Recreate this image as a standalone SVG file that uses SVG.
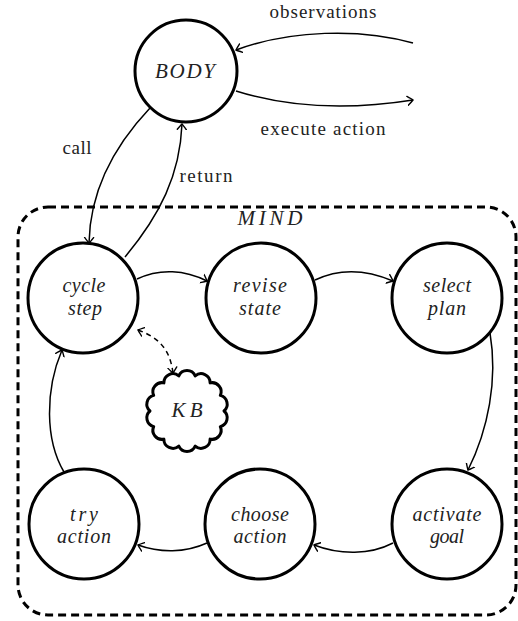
<svg xmlns="http://www.w3.org/2000/svg" width="518" height="621" viewBox="0 0 518 621">
  <style>
    .state { fill: #fff; stroke: #000; stroke-width: 3; }
    .lbl { font-family: "Liberation Serif", "Times New Roman", serif; font-size: 19px; fill: #222; stroke: none; text-anchor: middle; }
    .it { font-style: italic; font-size: 20px; }
    .caps { font-size: 21px; }
    .edge { fill: none; stroke: #000; stroke-width: 1.5; }
    .dash { stroke-dasharray: 5 4; }
  </style>
  <defs>
    <marker id="tip" markerUnits="userSpaceOnUse" markerWidth="12" markerHeight="12" viewBox="-6 -6 12 12" refX="0" refY="0" orient="auto-start-reverse">
      <path d="M-5.5,-4.5 Q-1.3,-1.3 0,0 Q-1.3,1.3 -5.5,4.5" fill="none" stroke="#000" stroke-width="1.4" stroke-linecap="round"/>
    </marker>
  </defs>

  <!-- mind boundary -->
  <g id="mind">
    <rect x="18" y="207" width="498" height="408" rx="30" ry="30" fill="none" stroke="#000" stroke-width="3" stroke-dasharray="8 5"/>
    <text class="lbl it caps" x="270" y="225" textLength="65" lengthAdjust="spacing">MIND</text>
  </g>

  <!-- connectors -->
  <g id="connectors">
    <path class="edge" d="M413,43 C360,28 290,30 236,50" marker-end="url(#tip)"/>
    <path class="edge" d="M236,91 C290,108 350,110 413,100" marker-end="url(#tip)"/>
    <path class="edge" d="M150,108 C115,145 90,190 89,243" marker-end="url(#tip)"/>
    <path class="edge" d="M125,257 C160,215 180,175 182,124" marker-end="url(#tip)"/>
    <path class="edge" d="M137,279 C160,268 185,270 207,281" marker-end="url(#tip)"/>
    <path class="edge" d="M315,280 C340,268 365,269 393,281" marker-end="url(#tip)"/>
    <path class="edge" d="M490,333 C498,380 488,430 468,470" marker-end="url(#tip)"/>
    <path class="edge" d="M393,543 C370,555 340,555 314,545" marker-end="url(#tip)"/>
    <path class="edge" d="M207,543 C185,553 160,553 138,545" marker-end="url(#tip)"/>
    <path class="edge" d="M64,472 C45,440 45,390 62,350" marker-end="url(#tip)"/>
    <path class="edge dash" d="M138,330 C160,338 170,350 173,373" marker-start="url(#tip)" marker-end="url(#tip)"/>
    <text class="lbl" x="323" y="18" textLength="107" lengthAdjust="spacing">observations</text>
    <text class="lbl" x="323" y="135" textLength="125" lengthAdjust="spacing">execute action</text>
    <text class="lbl" x="77" y="154" textLength="29" lengthAdjust="spacing">call</text>
    <text class="lbl" x="206" y="182" textLength="53" lengthAdjust="spacing">return</text>
  </g>

  <g id="body">
    <circle class="state" cx="186" cy="71" r="51"/>
    <text class="lbl it caps" x="185" y="78" textLength="60" lengthAdjust="spacing">BODY</text>
  </g>

  <g id="cycle-step">
    <circle class="state" cx="83" cy="298" r="55"/>
    <text class="lbl it" x="84" y="292" textLength="43" lengthAdjust="spacing">cycle</text>
    <text class="lbl it" x="85" y="315" textLength="34" lengthAdjust="spacing">step</text>
  </g>

  <g id="revise-state">
    <circle class="state" cx="261" cy="298" r="55"/>
    <text class="lbl it" x="260" y="292" textLength="54" lengthAdjust="spacing">revise</text>
    <text class="lbl it" x="260" y="315" textLength="42" lengthAdjust="spacing">state</text>
  </g>

  <g id="select-plan">
    <circle class="state" cx="447" cy="298" r="55"/>
    <text class="lbl it" x="447" y="292" textLength="48" lengthAdjust="spacing">select</text>
    <text class="lbl it" x="447" y="315" textLength="38" lengthAdjust="spacing">plan</text>
  </g>

  <g id="activate-goal">
    <circle class="state" cx="447" cy="524" r="55"/>
    <text class="lbl it" x="447" y="521" textLength="69" lengthAdjust="spacing">activate</text>
    <text class="lbl it" x="447" y="543" textLength="34" lengthAdjust="spacing">goal</text>
  </g>

  <g id="choose-action">
    <circle class="state" cx="260" cy="524" r="55"/>
    <text class="lbl it" x="260" y="521" textLength="58" lengthAdjust="spacing">choose</text>
    <text class="lbl it" x="260" y="543" textLength="53" lengthAdjust="spacing">action</text>
  </g>

  <g id="try-action">
    <circle class="state" cx="84" cy="524" r="55"/>
    <text class="lbl it" x="84" y="521" textLength="28" lengthAdjust="spacing">try</text>
    <text class="lbl it" x="84" y="543" textLength="54" lengthAdjust="spacing">action</text>
  </g>

  <!-- knowledge base: scalloped cloud of 14 bumps -->
  <g id="kb">
    <path fill="#fff" stroke="#000" stroke-width="3" stroke-linejoin="round"
      d="M224,411 A9,9 0 0 1 220.3,426.6 A9,9 0 0 1 210.1,439.1 A9,9 0 0 1 195.2,446.1 A9,9 0 0 1 178.8,446.1 A9,9 0 0 1 163.9,439.1 A9,9 0 0 1 153.7,426.6 A9,9 0 0 1 150,411 A9,9 0 0 1 153.7,395.4 A9,9 0 0 1 163.9,382.9 A9,9 0 0 1 178.8,375.9 A9,9 0 0 1 195.2,375.9 A9,9 0 0 1 210.1,382.9 A9,9 0 0 1 220.3,395.4 A9,9 0 0 1 224,411 Z"/>
    <text class="lbl it caps" x="187" y="417" textLength="31" lengthAdjust="spacing">KB</text>
  </g>
</svg>
